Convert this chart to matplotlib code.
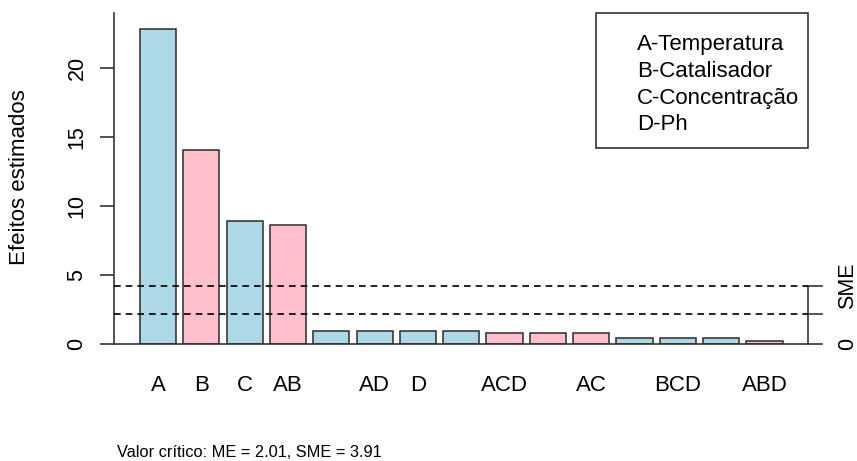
import matplotlib
matplotlib.use("Agg")
import matplotlib.pyplot as plt
from matplotlib.patches import Rectangle

plt.rcParams['font.family'] = ['Liberation Sans', 'DejaVu Sans']

# ---- data ----
effects = ["A", "B", "C", "AB", "", "AD", "D", "", "ACD", "", "AC", "", "BCD", "", "ABD"]
values = [22.82, 14.05, 8.9, 8.65, 0.94, 0.94, 0.94, 0.94, 0.78, 0.78, 0.78, 0.44, 0.44, 0.44, 0.22]
signs = ["+", "-", "+", "-", "+", "+", "+", "+", "-", "-", "-", "+", "+", "+", "-"]
me_line = 2.15
sme_line = 4.2
yticks = [0, 5, 10, 15, 20]
legend_labels = ["A-Temperatura", "B-Catalisador", "C-Concentração", "D-Ph"]
note = "Valor crítico: ME = 2.01, SME = 3.91"
ylabel = "Efeitos estimados"

# ---- figure ----
W, H = 857, 461
fig = plt.figure(figsize=(W / 100, H / 100), dpi=100)

# pixel mapping for axes
px0, px1 = 114, 822
py_bottom, py_top = 344, 13
ax = fig.add_axes([px0 / W, 1 - py_bottom / H, (px1 - px0) / W, (py_bottom - py_top) / H])
scale_x = 36.1
x_origin_px = 132.7
xl = (px0 - x_origin_px) / scale_x
xr = (px1 - x_origin_px) / scale_x
ytop = (py_bottom - py_top) / 13.79
ax.set_xlim(xl, xr)
ax.set_ylim(0, ytop)
for s in ax.spines.values():
    s.set_visible(False)

centers = [0.7 + 1.2 * i for i in range(len(values))]
colors = ["#ADD8E6" if s == "+" else "#FFC0CB" for s in signs]
ax.bar(centers, values, width=1.0, color=colors, edgecolor="#2b2b2b", linewidth=1.1, zorder=2)

# left axis
lc = "#333333"
ax.plot([xl, xl], [0, ytop], color=lc, lw=1.2, clip_on=False, zorder=3)
ax.set_yticks(yticks)
ax.set_yticklabels([str(t) for t in yticks], rotation=90, va="center", fontsize=15.5)
ax.tick_params(axis="y", length=10, width=1.2, color=lc, pad=9, direction="out")

# x labels
ax.set_xticks(centers)
ax.set_xticklabels(effects, fontsize=16)
ax.tick_params(axis="x", length=0, pad=22)

# right axis (ME / SME)
xra = (808 - x_origin_px) / scale_x
ax.plot([xl, xra], [0, 0], color=lc, lw=1.2, clip_on=False, zorder=3)
ax.plot([xra, xra], [0, sme_line], color=lc, lw=1.2, clip_on=False, zorder=3)
for yv in [0, me_line, sme_line]:
    ax.plot([xra, xr], [yv, yv], color=lc, lw=1.2, clip_on=False, zorder=3)
for yv in [me_line, sme_line]:
    ax.plot([xl, xra], [yv, yv], color="black", lw=1.2, ls=(0, (4, 3)), clip_on=False, zorder=3)
xlab = (848 - x_origin_px) / scale_x
ax.text(xlab, 0, "0", rotation=90, ha="center", va="center", fontsize=15.5, clip_on=False)
ax.text(xlab, sme_line, "SME", rotation=90, ha="center", va="center", fontsize=15.5, clip_on=False)

# legend box
lx0 = (596 - x_origin_px) / scale_x
ly0 = (py_bottom - 148) / 13.79
rect = Rectangle((lx0, ly0), xra - lx0, ytop - ly0, fill=False, edgecolor=lc, lw=1.2,
                 clip_on=False, zorder=4)
ax.add_patch(rect)
tx = (637 - x_origin_px) / scale_x
for i, lab in enumerate(legend_labels):
    ty = (py_bottom - (44.5 + 26.8 * i)) / 13.79
    ax.text(tx, ty, lab, ha="left", va="center", fontsize=16, zorder=5)

fig.text(20 / W, 1 - 177 / H, ylabel, rotation=90, ha="center", va="center", fontsize=16)
fig.text(117 / W, 1 - 452 / H, note, ha="left", va="center", fontsize=11.8)

fig.savefig("out.png", dpi=100)
